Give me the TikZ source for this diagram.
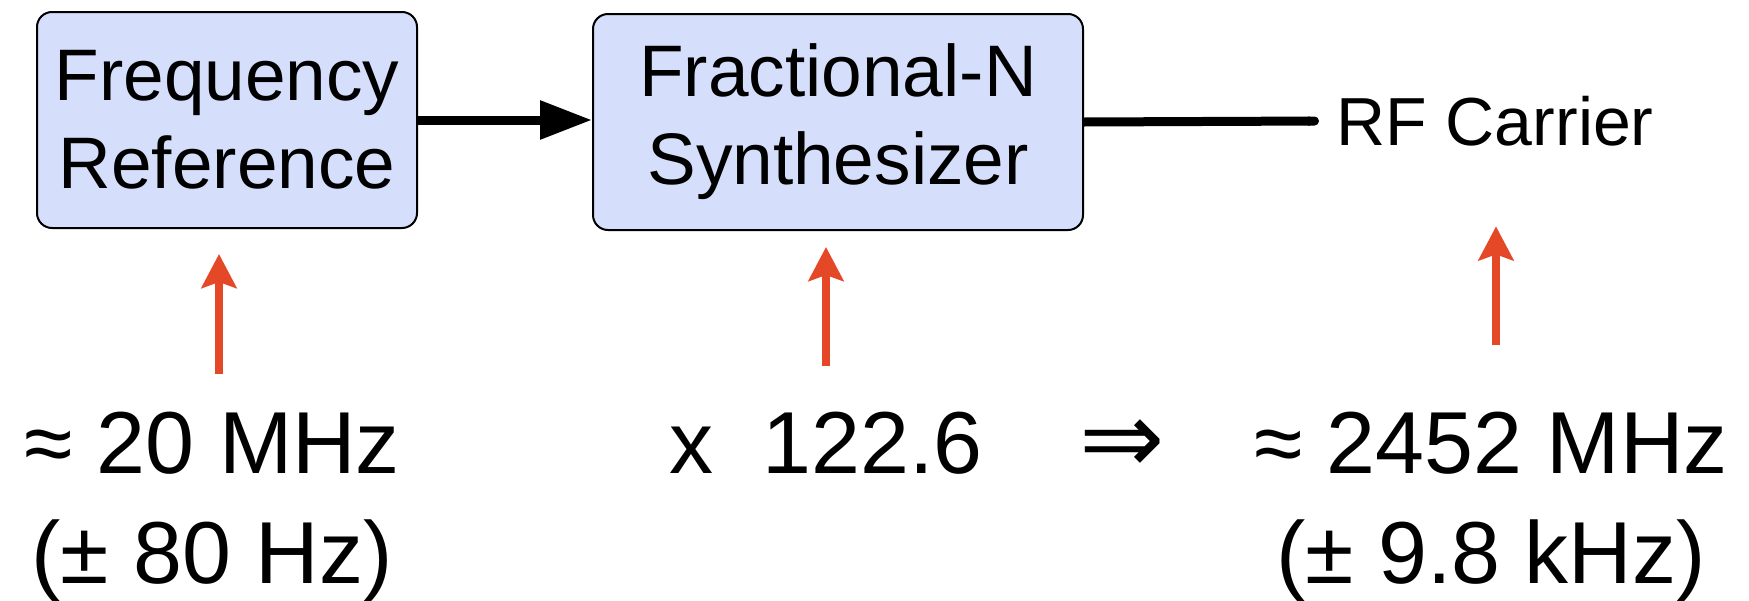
\documentclass[tikz,border=0pt]{standalone}
\usepackage{fontspec}
\setmainfont{Liberation Sans}
\newfontfamily\arrowfont{DejaVu Sans}
\usetikzlibrary{arrows.meta}
\definecolor{boxblue}{RGB}{213,223,252}
\definecolor{feedred}{RGB}{228,72,38}
\begin{document}
\begin{tikzpicture}[x=0.5pt, y=-0.5pt,
  block/.style={rectangle, rounded corners=7.5pt, draw, line width=1pt, fill=boxblue,
                minimum height=108pt, inner sep=0pt, align=center,
                font=\fontsize{36.5}{44}\selectfont},
  arrow/.style={-{Triangle[length=26pt, width=18.5pt]}, line width=4.5pt},
  feed/.style={-{Stealth[length=17pt, width=17.5pt, inset=3pt]}, line width=4pt, feedred},
  value/.style={inner sep=0pt, align=center, font=\fontsize{44}{55}\selectfont}
]
\useasboundingbox (0,0) rectangle (1749,600);
\node[block, minimum width=190pt] (freqref) at (227,120) {Frequency\\Reference};
\node[block, minimum width=245pt] (synth) at (838,122) {Fractional-N\\Synthesizer};
\node[anchor=west, inner xsep=8.5pt, inner ysep=0pt,
      font=\fontsize{34}{40}\selectfont] (carrier) at (1319,121) {RF Carrier};

\draw[arrow] (freqref.east) -- (freqref.east -| synth.west);
\draw[line width=4.5pt, -{Round Cap}] (synth.east) -- (carrier.west);

\node[value, anchor=base] (reflabel) at (212,583) {≈ 20 MHz\\(± 80 Hz)};
\node[value, anchor=base] (ratio) at (826,473) {x\ \ 122.6};
\node[value, font={\arrowfont\fontsize{51}{55}\selectfont}] (implies) at (1122,447) {⇒};
\node[value, anchor=base] (rflabel) at (1491,583) {≈ 2452 MHz\\(± 9.8 kHz)};

\coordinate (reftail) at (219,374);
\coordinate (syntail) at (826,366);
\coordinate (rftail) at (1496,345);
\draw[feed, shorten >=12.5pt] (reftail) -- (reftail |- freqref.south);
\draw[feed, shorten >=8pt] (syntail) -- (syntail |- synth.south);
\draw[feed, shorten >=40pt] (rftail) -- (rftail |- carrier.south);
\end{tikzpicture}
\end{document}
